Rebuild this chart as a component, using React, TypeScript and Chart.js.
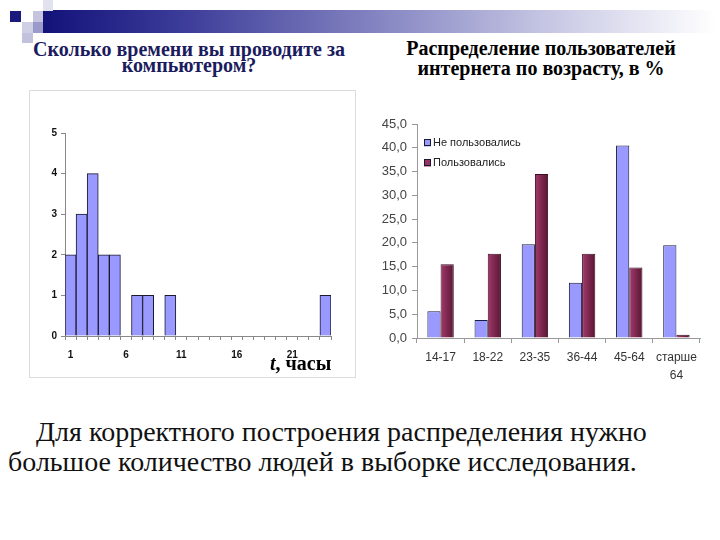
import React, { useEffect, useRef } from "react";
import { Chart, registerables } from "chart.js";

Chart.register(...registerables);

// Left histogram: hours spent at the computer
const histBins = ["1","2","3","4","5","6","7","8","9","10","11","12","13","14","15","16","17","18","19","20","21","22","23","24"];
const histCounts = [2, 3, 4, 2, 2, 0, 1, 1, 0, 1, 0, 0, 0, 0, 0, 0, 0, 0, 0, 0, 0, 0, 0, 1];
const histShownTicks = ["1", "6", "11", "16", "21"];

// Right chart: internet users by age, %
const ageGroups: (string | string[])[] = ["14-17", "18-22", "23-35", "36-44", "45-64", ["старше", "64"]];
const notUsed = [5.6, 3.8, 19.7, 11.6, 40.5, 19.5];
const used = [15.5, 17.7, 34.5, 17.7, 14.8, 0.7];
const seriesNames = ["Не пользовались", "Пользовались"];

const leftTitle = ["Сколько времени вы проводите за", "компьютером?"];
const rightTitle = ["Распределение пользователей", "интернета по возрасту, в %"];
const bodyText = ["Для корректного построения распределения нужно", "большое количество людей в выборке исследования."];

const SANS = "'Liberation Sans', Arial, sans-serif";
const SERIF = "'Liberation Serif', 'DejaVu Serif', 'Times New Roman', serif";

function HistChart() {
  const ref = useRef<HTMLCanvasElement>(null);
  useEffect(() => {
    const chart = new Chart(ref.current!, {
      type: "bar",
      data: {
        labels: histBins,
        datasets: [
          {
            data: histCounts,
            backgroundColor: "#9999ff",
            borderColor: "#1a1a2e",
            borderWidth: 1,
            barPercentage: 1,
            categoryPercentage: 1,
          },
        ],
      },
      options: {
        animation: false,
        responsive: false,
        layout: { padding: { top: 43, right: 25, left: 0, bottom: 0 } },
        plugins: { legend: { display: false }, tooltip: { enabled: false } },
        scales: {
          x: {
            grid: { drawOnChartArea: false, tickLength: 4, color: "#888" },
            border: { color: "#888" },
            afterFit: (s: any) => { s.height = 42; },
            ticks: {
              autoSkip: false,
              maxRotation: 0,
              padding: 9,
              color: "#111",
              font: { family: SANS, size: 10, weight: "bold" },
              callback: function (this: any, v: any) {
                const l = this.getLabelForValue(v);
                return histShownTicks.includes(l) ? l : "";
              },
            },
          },
          y: {
            min: 0,
            max: 5,
            grid: { drawOnChartArea: false, tickLength: 4, color: "#888" },
            border: { color: "#888" },
            afterFit: (s: any) => { s.width = 36; },
            ticks: { stepSize: 1, padding: 4, color: "#111", font: { family: SANS, size: 10, weight: "bold" } },
          },
        },
      },
    });
    return () => chart.destroy();
  }, []);
  return <canvas ref={ref} width={327} height={288} style={{ position: "absolute", left: 29, top: 90 }} />;
}

const legendInside = {
  id: "legendInside",
  afterDatasetsDraw(chart: any) {
    const { ctx, chartArea } = chart;
    ctx.save();
    chart.data.datasets.forEach((ds: any, i: number) => {
      const y = chartArea.top + 19 + i * 20;
      const x = chartArea.left + 7;
      ctx.fillStyle = ds.legendColor;
      ctx.fillRect(x, y - 3.5, 7, 7);
      ctx.strokeStyle = "#1a1a2e";
      ctx.lineWidth = 1;
      ctx.strokeRect(x + 0.5, y - 3.5, 6, 6);
      ctx.fillStyle = "#222";
      ctx.font = `11px ${SANS}`;
      ctx.textBaseline = "middle";
      ctx.fillText(ds.label, x + 9, y);
    });
    ctx.restore();
  },
};

function AgeChart() {
  const ref = useRef<HTMLCanvasElement>(null);
  useEffect(() => {
    const catPct = 0.56;
    const maroonFill = (c: any) => {
      const chart = c.chart;
      const xs = chart.scales && chart.scales.x;
      if (!xs || c.dataIndex === undefined || !isFinite(xs.width) || xs.width <= 0) return "#882a55";
      const center = xs.getPixelForValue(c.dataIndex);
      const barW = (xs.width / ageGroups.length) * catPct / 2;
      const g = chart.ctx.createLinearGradient(center, 0, center + barW, 0);
      g.addColorStop(0, "#a33a6c");
      g.addColorStop(1, "#581532");
      return g;
    };
    const chart = new Chart(ref.current!, {
      type: "bar",
      data: {
        labels: ageGroups as any,
        datasets: [
          {
            label: seriesNames[0],
            data: notUsed,
            backgroundColor: "#9999ff",
            legendColor: "#9999ff",
            borderColor: "#1a1a3e",
            borderWidth: 1,
            barPercentage: 1,
            categoryPercentage: catPct,
          } as any,
          {
            label: seriesNames[1],
            data: used,
            backgroundColor: maroonFill,
            legendColor: "#993366",
            borderColor: "#3a0d22",
            borderWidth: 1,
            barPercentage: 1,
            categoryPercentage: catPct,
          } as any,
        ],
      },
      options: {
        animation: false,
        responsive: false,
        layout: { padding: { top: 19, right: 15, left: 0, bottom: 0 } },
        plugins: { legend: { display: false }, tooltip: { enabled: false } },
        scales: {
          x: {
            grid: { drawOnChartArea: false, tickLength: 5, color: "#999" },
            border: { color: "#999" },
            afterFit: (s: any) => { s.height = 47; },
            ticks: { maxRotation: 0, padding: 5, color: "#333", font: { family: SANS, size: 12, lineHeight: 1.55 } },
          },
          y: {
            min: 0,
            max: 45,
            grid: { drawOnChartArea: false, tickLength: 5, color: "#999" },
            border: { color: "#999" },
            afterFit: (s: any) => { s.width = 47; },
            ticks: {
              stepSize: 5,
              padding: 5,
              color: "#444",
              font: { family: SANS, size: 13 },
              callback: (v: any) => Number(v).toFixed(1).replace(".", ","),
            },
          },
        },
      },
      plugins: [legendInside],
    });
    return () => chart.destroy();
  }, []);
  return <canvas ref={ref} width={345} height={280} style={{ position: "absolute", left: 370, top: 105 }} />;
}

export default function App() {
  const sq = (left: number, top: number, w: number, h: number, bg: string) => (
    <div style={{ position: "absolute", left, top, width: w, height: h, background: bg }} />
  );
  return (
    <div style={{ position: "fixed", left: 0, top: 0, width: 720, height: 540, background: "#fff", overflow: "hidden" }}>
      {/* header decoration */}
      <div style={{ position: "absolute", left: 43, top: 10, width: 672, height: 23, background: "linear-gradient(to right, #12127a 0%, #3a3a98 20%, #8585c2 50%, #c6c6e4 75%, #ffffff 100%)" }} />
      {sq(10, 11, 11, 11, "#1a1a7c")}
      {sq(33, 11, 10, 11, "#c4c4de")}
      {sq(43, 0, 10, 11, "#e2e2ef")}
      {sq(22, 22, 11, 11, "#cfcfe6")}
      {sq(33, 22, 10, 11, "#9a9acb")}
      {sq(22, 33, 11, 10, "#c2c2de")}

      {/* titles */}
      <div style={{ position: "absolute", left: 14, width: 350, top: 41, textAlign: "center", fontFamily: SERIF, fontWeight: "bold", fontSize: 20, lineHeight: "16px", color: "#1b1b5e", whiteSpace: "nowrap" }}>
        {leftTitle[0]}<br />{leftTitle[1]}
      </div>
      <div style={{ position: "absolute", left: 366, width: 350, top: 38, textAlign: "center", fontFamily: SERIF, fontWeight: "bold", fontSize: 20, lineHeight: "20px", color: "#000", whiteSpace: "nowrap" }}>
        {rightTitle[0]}<br />{rightTitle[1]}
      </div>

      {/* left chart frame */}
      <div style={{ position: "absolute", left: 29, top: 90, width: 327, height: 288, boxSizing: "border-box", border: "1px solid #dcdcdc" }} />
      <HistChart />
      <div style={{ position: "absolute", left: 270, top: 352, fontFamily: SERIF, fontWeight: "bold", fontSize: 20, color: "#000", whiteSpace: "nowrap" }}>
        <i>t</i>, часы
      </div>

      <AgeChart />

      {/* body text */}
      <div style={{ position: "absolute", left: 8, top: 417, width: 712, fontFamily: SERIF, fontSize: 28, lineHeight: "30px", color: "#111", whiteSpace: "nowrap" }}>
        <div style={{ paddingLeft: 28 }}>{bodyText[0]}</div>
        <div>{bodyText[1]}</div>
      </div>
    </div>
  );
}
